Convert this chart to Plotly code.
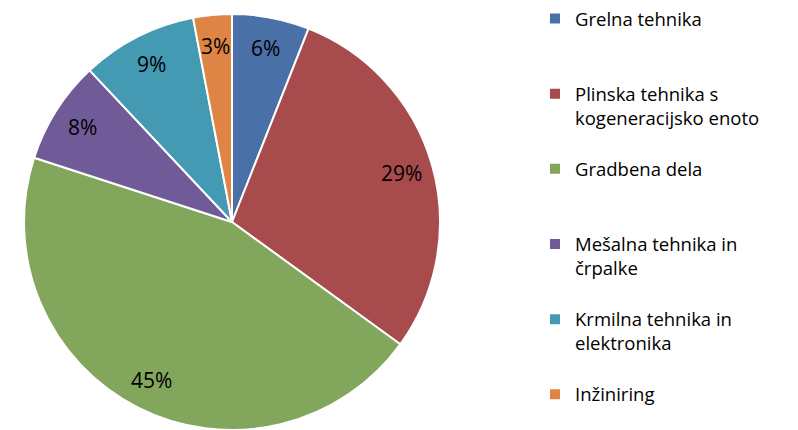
import math
import plotly.graph_objects as go

categories = ["Grelna tehnika", "Plinska tehnika s kogeneracijsko enoto", "Gradbena dela",
              "Mešalna tehnika in črpalke", "Krmilna tehnika in elektronika", "Inžiniring"]
legend_labels = ["Grelna tehnika<br> <br> ",
                 "Plinska tehnika s<br>kogeneracijsko enoto<br> ",
                 "Gradbena dela<br> <br> ",
                 "Mešalna tehnika in<br>črpalke<br> ",
                 "Krmilna tehnika in<br>elektronika<br> ",
                 "Inžiniring"]
values = [6, 29, 45, 8, 9, 3]
colors = ["#4A70A8", "#A84B4C", "#82A65C", "#705B98", "#4499B3", "#DE8546"]

W, H = 798, 430
dom_x = [23 / W, 441 / W]
dom_y = [0, 1 - 14 / H]
FONT = "Open Sans"

fig = go.Figure(go.Pie(
    labels=legend_labels,
    values=values,
    sort=False,
    direction="clockwise",
    rotation=0,
    marker=dict(colors=colors, line=dict(color="white", width=2)),
    textinfo="none",
    hoverinfo="label+percent",
    domain=dict(x=dom_x, y=dom_y),
))

# percentage labels near the outer part of each slice, computed from the values
total = sum(values)
R_px = min((dom_x[1] - dom_x[0]) * W, (dom_y[1] - dom_y[0]) * H) / 2
cx = (dom_x[0] + dom_x[1]) / 2
cy = dom_y[1] - R_px / H
cum = 0
annotations = []
for v in values:
    mid = (cum + v / 2) / total * 2 * math.pi
    cum += v
    r = 0.85 * R_px
    annotations.append(dict(
        x=cx + r * math.sin(mid) / W, y=cy + r * math.cos(mid) / H,
        xref="paper", yref="paper", xanchor="center", yanchor="middle",
        showarrow=False,
        text=f"{round(v / total * 100)}%",
        font=dict(family=FONT, size=21, color="black"),
    ))

fig.update_layout(
    width=W, height=H,
    margin=dict(l=0, r=0, t=0, b=0),
    paper_bgcolor="white",
    plot_bgcolor="white",
    font=dict(family=FONT, size=18.5, color="black"),
    annotations=annotations,
    showlegend=True,
    legend=dict(x=535 / W, y=1, xanchor="left", yanchor="top",
                valign="top", itemwidth=30, tracegroupgap=0,
                maxheight=1000,
                font=dict(family=FONT, size=18.5, color="black"),
                traceorder="normal"),
)

fig.write_html("out.html", config={"displayModeBar": False},
               post_script="document.body.style.margin='0';")
